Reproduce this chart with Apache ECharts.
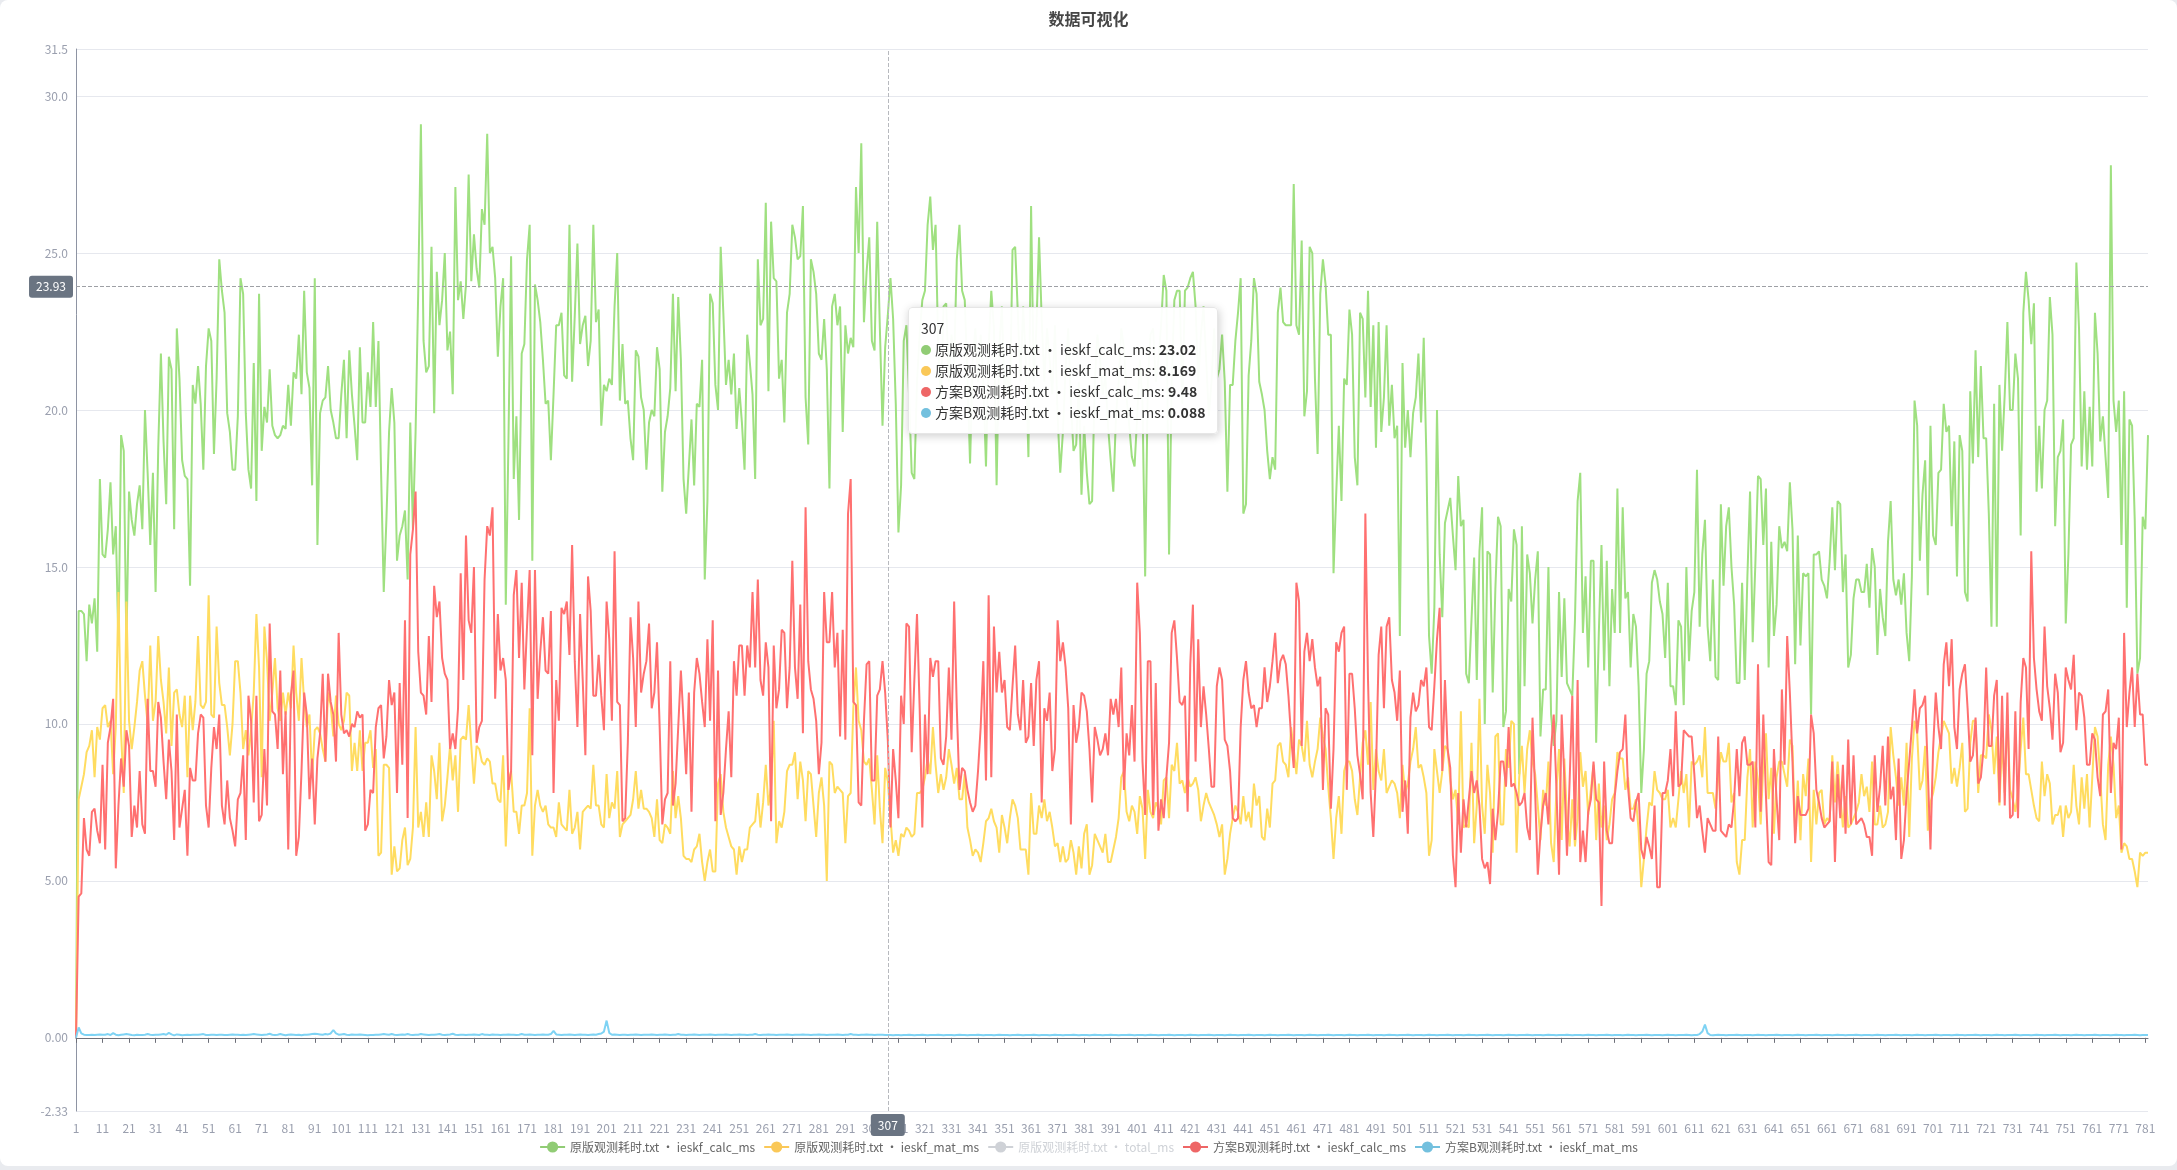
<!DOCTYPE html>
<html>
<head>
<meta charset="utf-8">
<title>数据可视化</title>
<script src="https://cdn.jsdelivr.net/npm/echarts@6.0.0/dist/echarts.min.js"></script>
<style>
  html, body { margin: 0; padding: 0; background: #e9ebef; }
  #main { width: 2177px; height: 1166px; background: #fff; border-radius: 8px; }
</style>
</head>
<body>
<div id="main"></div>
<script>
// 原版观测耗时.txt · ieskf_calc_ms
var origCalc = [
  0, 13.6, 13.6, 13.5, 12.0, 13.8, 13.2, 14.0, 12.3, 17.8,
  15.4, 15.3, 16.2, 17.7, 15.4, 16.3, 12.5, 19.2, 18.7, 12.5,
  17.4, 16.5, 16.0, 17.0, 17.6, 16.2, 20.0, 18.0, 15.7, 18.0,
  14.2, 18.8, 21.8, 19.0, 17.0, 21.7, 21.3, 16.2, 22.6, 21.0,
  18.4, 17.9, 17.8, 14.4, 20.8, 20.2, 21.4, 20.2, 18.1, 21.4,
  22.6, 22.2, 18.6, 21.0, 24.8, 23.8, 23.1, 19.9, 19.3, 18.1,
  18.1, 19.8, 24.2, 23.7, 19.9, 18.1, 17.5, 21.5, 17.1, 23.7,
  18.7, 20.1, 19.6, 21.3, 19.5, 19.2, 19.1, 19.2, 19.5, 19.4,
  20.8, 19.5, 21.2, 21.0, 22.4, 20.5, 23.8, 21.2, 20.7, 17.6,
  24.2, 15.7, 19.9, 20.3, 20.4, 21.4, 20.0, 19.6, 19.1, 19.1,
  20.5, 21.6, 19.1, 21.9, 20.5, 19.5, 18.4, 22.0, 19.6, 19.6,
  21.2, 20.1, 22.8, 20.1, 22.2, 18.0, 14.2, 16.5, 19.3, 20.7,
  19.6, 15.2, 16.0, 16.3, 16.8, 14.6, 19.6, 16.2, 19.3, 23.8,
  29.1, 22.2, 21.2, 21.4, 25.2, 19.9, 24.4, 22.7, 23.5, 25.0,
  21.9, 22.5, 20.5, 27.1, 23.5, 24.1, 22.9, 24.0, 27.5, 24.1,
  25.6, 24.5, 23.9, 26.4, 25.9, 28.8, 25.0, 25.2, 24.2, 21.7,
  23.3, 24.2, 13.8, 19.0, 24.9, 17.8, 19.8, 16.5, 21.8, 22.1,
  24.8, 25.9, 15.2, 24.0, 23.5, 22.8, 21.6, 20.2, 20.3, 18.4,
  20.5, 22.7, 22.7, 23.1, 21.1, 21.0, 25.9, 20.9, 23.0, 25.3,
  22.1, 22.7, 23.0, 21.4, 22.2, 25.9, 22.8, 23.2, 19.5, 20.8,
  20.6, 21.0, 20.8, 23.3, 25.0, 20.3, 22.1, 20.2, 20.3, 19.1,
  18.4, 21.9, 21.7, 20.4, 20.0, 18.1, 19.6, 20.0, 19.8, 22.0,
  21.3, 17.4, 19.3, 19.8, 20.7, 23.7, 20.6, 23.6, 21.6, 17.8,
  16.7, 18.2, 19.7, 17.6, 20.2, 20.1, 21.6, 14.6, 17.1, 23.7,
  23.4, 20.8, 20.0, 25.2, 23.1, 20.8, 21.6, 20.5, 21.8, 19.4,
  20.7, 19.6, 18.1, 22.4, 21.5, 20.5, 17.8, 24.8, 22.7, 22.9,
  26.6, 20.6, 26.0, 24.2, 24.1, 21.0, 21.6, 19.6, 23.1, 23.7,
  25.9, 25.5, 24.8, 24.9, 26.5, 20.4, 18.9, 24.8, 24.4, 23.7,
  21.8, 21.6, 22.9, 21.3, 17.5, 23.3, 23.7, 22.7, 23.3, 19.3,
  22.7, 21.8, 22.3, 22.0, 27.1, 25.0, 28.5, 22.8, 24.4, 25.5,
  22.2, 21.9, 26.0, 22.6, 19.5, 22.0, 23.02, 24.2, 22.9, 20.2,
  16.1, 17.6, 22.2, 22.7, 20.5, 18.0, 17.8, 20.9, 22.4, 23.5,
  23.8, 25.9, 26.8, 25.1, 25.9, 22.0, 20.2, 23.3, 23.4, 20.9,
  22.4, 21.5, 24.8, 25.9, 23.8, 23.5, 21.1, 18.3, 21.6, 22.6,
  20.9, 22.4, 20.9, 18.2, 22.0, 23.8, 22.6, 17.6, 22.0, 23.3,
  20.5, 21.3, 20.0, 25.1, 25.2, 23.1, 20.9, 23.3, 21.6, 18.5,
  26.5, 20.9, 22.6, 25.5, 22.9, 20.9, 22.6, 21.6, 20.5, 22.7,
  19.8, 18.0, 19.3, 21.3, 22.6, 20.2, 18.7, 18.9, 20.9, 17.3,
  19.5, 18.0, 17.0, 17.1, 20.9, 22.4, 21.6, 20.5, 21.1, 19.5,
  18.4, 17.4, 19.8, 20.9, 22.6, 22.0, 20.4, 19.5, 18.5, 18.2,
  19.8, 21.6, 20.2, 14.7, 20.9, 22.4, 22.6, 20.9, 21.6, 22.7,
  24.3, 23.8, 15.4, 20.9, 23.5, 23.8, 23.8, 20.2, 23.8, 23.9,
  24.2, 24.4, 23.3, 20.9, 22.4, 23.3, 21.6, 19.8, 20.9, 22.6,
  21.0, 21.3, 22.4, 20.9, 17.4, 20.8, 20.8, 22.2, 23.1, 24.2,
  16.7, 17.0, 21.1, 22.2, 24.2, 23.7, 20.9, 20.5, 20.0, 18.7,
  17.8, 18.5, 18.1, 23.1, 23.9, 22.8, 22.7, 22.7, 22.7, 27.2,
  22.7, 22.4, 25.4, 19.8, 20.6, 25.2, 25.0, 21.0, 18.6, 23.7,
  24.8, 24.0, 22.4, 22.4, 14.8, 17.3, 19.5, 17.1, 21.0, 20.8,
  23.2, 22.4, 18.5, 17.6, 23.1, 22.9, 20.4, 23.8, 20.1, 22.7,
  18.8, 22.8, 19.3, 20.4, 22.7, 19.5, 20.8, 19.1, 19.5, 12.8,
  21.5, 18.8, 20.0, 18.5, 19.9, 20.4, 21.8, 19.6, 22.3, 18.5,
  12.8, 11.6, 13.7, 20.0, 15.4, 13.4, 16.4, 16.8, 17.2, 16.0,
  14.9, 17.9, 16.3, 16.5, 11.6, 11.3, 13.3, 15.3, 11.4, 15.5,
  16.9, 10.0, 15.5, 15.4, 11.0, 14.3, 16.6, 16.3, 9.9, 10.4,
  14.3, 13.9, 16.2, 15.7, 8.4, 16.3, 11.2, 15.4, 14.8, 13.2,
  14.6, 15.5, 9.6, 11.1, 11.1, 15.0, 10.3, 9.3, 10.1, 14.2,
  11.5, 14.0, 11.3, 11.1, 10.9, 13.3, 17.1, 18.0, 12.9, 14.7,
  11.8, 15.2, 15.2, 9.4, 12.9, 15.7, 11.7, 15.2, 11.2, 14.3,
  12.9, 17.5, 12.9, 16.9, 14.0, 14.2, 11.8, 13.5, 13.1, 11.2,
  7.8, 9.2, 11.6, 12.0, 14.5, 14.9, 14.6, 13.9, 13.5, 12.1,
  14.5, 11.2, 11.2, 10.6, 13.3, 13.1, 10.6, 15.0, 12.0, 13.6,
  14.2, 18.1, 13.1, 15.4, 16.5, 13.1, 12.0, 14.6, 11.5, 11.4,
  17.0, 14.4, 16.3, 16.9, 15.0, 13.8, 11.3, 11.3, 14.5, 11.4,
  14.7, 17.4, 12.6, 15.1, 17.9, 17.8, 15.7, 17.5, 11.8, 15.8,
  12.8, 13.8, 16.3, 15.6, 15.8, 15.5, 17.7, 16.2, 11.9, 16.0,
  12.5, 14.8, 14.7, 14.8, 10.3, 15.4, 15.4, 15.5, 14.6, 14.4,
  14.0, 15.2, 16.9, 14.9, 17.1, 17.0, 14.2, 15.4, 11.8, 12.2,
  14.0, 14.6, 14.6, 14.2, 14.2, 15.1, 13.7, 15.6, 15.0, 12.2,
  14.3, 13.4, 12.8, 15.8, 17.1, 14.6, 14.1, 14.6, 13.8, 14.8,
  12.9, 12.0, 14.7, 20.3, 19.5, 15.2, 17.3, 18.4, 14.1, 19.5,
  16.0, 15.7, 18.0, 18.1, 20.2, 19.3, 19.5, 16.3, 19.0, 14.7,
  19.2, 18.7, 14.2, 13.9, 20.6, 18.3, 21.9, 18.5, 21.4, 19.1,
  19.1, 16.7, 13.1, 20.2, 13.1, 20.8, 18.7, 20.5, 22.8, 20.0,
  20.0, 21.8, 21.0, 16.0, 23.1, 24.4, 23.5, 22.1, 23.4, 17.4,
  19.5, 17.5, 20.0, 20.3, 23.6, 22.4, 16.3, 18.5, 18.7, 19.7,
  13.2, 15.4, 18.9, 19.1, 24.7, 22.6, 18.2, 20.6, 18.1, 20.1,
  18.2, 23.1, 21.8, 19.0, 19.8, 18.5, 17.2, 27.8, 20.3, 19.3,
  20.3, 15.7, 20.6, 13.7, 19.7, 19.5, 16.5, 11.6, 12.1, 16.6,
  16.2, 19.2
];

// 原版观测耗时.txt · ieskf_mat_ms
var origMat = [
  0, 7.6, 8.0, 8.4, 9.1, 9.3, 9.8, 8.3, 9.9, 9.5,
  10.5, 10.6, 9.9, 10.1, 8.4, 9.9, 14.2, 9.7, 7.8, 13.9,
  10.1, 9.2, 9.9, 10.7, 11.7, 12.0, 10.9, 10.0, 12.5, 10.1,
  10.7, 12.8, 11.4, 10.7, 9.7, 11.8, 9.3, 11.0, 11.1, 10.3,
  9.9, 10.9, 8.3, 10.9, 9.8, 10.7, 12.8, 10.6, 10.5, 10.7,
  14.1, 10.3, 10.2, 13.1, 11.3, 10.6, 10.6, 9.9, 9.0, 10.0,
  12.0, 12.0, 11.0, 9.2, 9.8, 9.0, 9.8, 11.0, 13.5, 11.8,
  8.3, 13.1, 12.0, 10.1, 11.0, 12.1, 10.5, 10.1, 11.0, 10.3,
  11.0, 10.5, 12.5, 11.0, 10.1, 12.1, 10.7, 9.9, 10.3, 8.3,
  9.8, 9.9, 9.7, 9.2, 8.8, 11.0, 10.6, 9.6, 10.9, 10.0,
  9.8, 10.1, 11.0, 10.9, 8.5, 9.4, 8.5, 9.8, 8.5, 9.4,
  9.4, 9.8, 8.6, 9.2, 5.8, 5.9, 8.7, 8.7, 8.6, 5.2,
  6.1, 5.3, 5.4, 6.3, 6.7, 5.5, 5.7, 6.7, 9.9, 6.7,
  7.2, 6.4, 7.5, 6.4, 9.0, 8.5, 7.6, 9.4, 6.9, 7.4,
  8.3, 9.3, 8.2, 9.0, 7.2, 9.5, 9.6, 9.5, 10.6, 9.3,
  8.1, 9.3, 9.2, 8.8, 8.7, 8.9, 8.8, 8.1, 8.1, 7.6,
  7.5, 9.0, 6.1, 8.2, 8.5, 7.2, 7.2, 6.5, 7.4, 7.4,
  7.8, 10.5, 5.8, 7.4, 7.9, 7.4, 7.2, 7.4, 6.8, 6.7,
  6.7, 6.4, 7.5, 6.8, 6.7, 6.6, 7.9, 6.5, 6.7, 7.2,
  6.0, 7.2, 7.3, 7.4, 7.3, 8.7, 7.4, 7.4, 6.8, 6.7,
  8.4, 7.0, 7.5, 7.3, 8.5, 6.4, 6.8, 6.9, 7.0, 7.1,
  7.6, 8.5, 7.3, 7.9, 7.3, 7.3, 7.2, 7.0, 6.4, 7.6,
  6.3, 6.2, 6.8, 6.7, 6.5, 8.5, 7.0, 7.7, 7.0, 5.8,
  5.7, 5.7, 5.6, 6.0, 6.1, 6.5, 5.6, 5.0, 5.6, 6.0,
  5.3, 5.3, 8.1, 8.4, 7.2, 6.7, 6.4, 6.1, 6.0, 5.2,
  6.1, 5.6, 6.0, 6.0, 6.7, 6.8, 6.9, 7.8, 6.7, 7.5,
  8.7, 7.4, 8.0, 10.1, 6.2, 6.9, 6.7, 7.2, 8.5, 8.7,
  8.7, 9.1, 7.6, 8.8, 8.2, 6.9, 8.5, 8.4, 7.4, 6.4,
  7.8, 8.3, 7.4, 5.0, 8.8, 8.7, 7.8, 8.0, 7.9, 7.8,
  6.2, 7.7, 7.8, 10.5, 11.8, 10.1, 9.8, 8.8, 8.7, 8.9,
  7.9, 6.8, 9.0, 7.3, 6.2, 8.6, 8.169, 7.0, 5.9, 6.3,
  5.8, 6.5, 6.4, 6.7, 6.6, 6.4, 6.5, 7.8, 7.8, 7.9,
  8.3, 8.9, 8.4, 9.9, 8.7, 7.8, 8.4, 7.9, 8.3, 9.2,
  8.7, 8.1, 8.6, 7.6, 7.6, 8.4, 6.7, 6.3, 5.8, 6.0,
  5.9, 5.6, 6.2, 6.9, 7.0, 7.3, 6.9, 6.7, 5.9, 7.1,
  6.7, 6.2, 7.0, 7.6, 7.4, 7.0, 6.0, 6.0, 6.0, 5.2,
  7.8, 6.5, 6.5, 7.4, 7.0, 7.6, 6.9, 7.2, 6.7, 6.1,
  6.2, 5.6, 6.1, 5.6, 5.7, 6.3, 5.9, 5.2, 6.1, 5.4,
  6.5, 6.8, 5.2, 5.5, 6.5, 6.3, 6.1, 5.9, 6.5, 5.6,
  5.6, 6.0, 6.4, 7.0, 8.3, 8.5, 7.2, 6.9, 7.4, 7.2,
  6.5, 7.7, 7.3, 5.7, 7.9, 7.2, 7.0, 7.5, 7.3, 6.8,
  8.2, 8.3, 7.0, 8.7, 8.5, 9.4, 8.1, 8.2, 7.8, 8.3,
  8.0, 8.1, 8.3, 7.9, 6.9, 7.4, 7.8, 7.5, 7.3, 7.1,
  6.8, 6.4, 6.8, 5.2, 5.7, 6.5, 7.0, 7.4, 7.2, 6.8,
  7.7, 6.9, 7.2, 6.7, 8.1, 7.4, 7.7, 6.4, 6.3, 7.3,
  6.7, 8.1, 8.2, 9.3, 9.4, 8.8, 8.7, 8.3, 9.9, 9.2,
  8.4, 9.5, 9.3, 8.8, 10.1, 8.7, 8.3, 8.8, 9.2, 10.2,
  9.6, 9.2, 8.0, 7.0, 5.7, 7.0, 7.7, 6.5, 8.5, 8.8,
  8.8, 8.5, 7.6, 7.1, 8.3, 9.4, 9.8, 8.7, 10.7, 7.9,
  9.2, 8.5, 8.2, 9.2, 7.8, 8.0, 8.2, 8.1, 7.8, 7.0,
  8.7, 7.8, 8.1, 8.8, 9.2, 9.9, 8.6, 8.7, 8.3, 7.8,
  5.8, 6.3, 9.2, 8.5, 7.8, 8.5, 9.3, 9.2, 8.2, 7.6,
  7.9, 6.8, 10.4, 6.7, 6.8, 6.7, 9.4, 6.2, 7.4, 10.8,
  7.4, 6.5, 8.7, 7.8, 5.9, 9.6, 9.7, 6.8, 6.8, 9.2,
  8.6, 10.1, 10.0, 5.9, 8.3, 9.3, 7.8, 9.2, 9.8, 8.8,
  8.4, 7.4, 6.3, 7.9, 7.4, 8.8, 6.2, 5.6, 7.9, 9.2,
  6.3, 8.9, 7.0, 6.1, 7.6, 6.1, 7.0, 9.1, 8.0, 8.5,
  7.1, 7.9, 8.7, 6.3, 8.1, 6.7, 7.4, 6.3, 6.8, 7.6,
  7.8, 9.1, 8.9, 8.9, 7.9, 8.3, 7.3, 7.3, 7.6, 6.6,
  4.8, 5.7, 6.7, 7.5, 7.4, 8.5, 7.9, 7.8, 7.6, 7.6,
  7.9, 6.7, 7.0, 6.7, 7.6, 8.5, 7.8, 8.4, 6.7, 8.8,
  8.7, 8.8, 9.0, 8.3, 9.9, 7.8, 7.8, 7.8, 7.3, 8.3,
  9.1, 8.8, 8.8, 9.4, 7.5, 7.8, 5.6, 5.2, 6.3, 6.3,
  8.3, 9.2, 6.7, 8.8, 8.2, 6.8, 8.7, 9.7, 7.6, 8.6,
  6.5, 8.3, 8.8, 8.8, 8.4, 8.0, 9.5, 9.3, 6.5, 8.2,
  6.3, 8.4, 7.7, 8.9, 5.6, 7.9, 6.8, 7.8, 7.9, 6.8,
  7.0, 6.9, 9.0, 7.5, 8.8, 7.7, 6.7, 7.7, 6.7, 6.8,
  7.0, 7.2, 7.5, 8.4, 7.7, 8.0, 7.2, 8.8, 6.8, 6.8,
  7.4, 6.7, 6.8, 7.2, 9.9, 9.0, 8.3, 7.4, 8.3, 7.4,
  9.4, 6.4, 8.9, 10.1, 9.7, 7.9, 8.2, 9.3, 6.6, 7.5,
  7.8, 8.3, 9.1, 9.6, 10.1, 9.9, 9.7, 8.1, 8.6, 8.0,
  8.6, 9.4, 7.2, 7.3, 9.4, 10.1, 10.1, 7.8, 9.0, 9.0,
  8.9, 10.3, 9.8, 8.4, 9.6, 7.4, 9.5, 7.8, 10.3, 7.9,
  7.6, 7.2, 7.9, 9.2, 10.2, 8.4, 8.4, 7.9, 7.4, 7.0,
  6.9, 8.8, 7.7, 8.4, 8.1, 6.8, 7.1, 7.1, 7.4, 6.4,
  7.4, 7.0, 7.2, 8.7, 7.4, 6.8, 8.3, 7.3, 8.4, 6.7,
  8.3, 9.9, 9.6, 8.3, 6.8, 6.3, 8.7, 9.6, 8.7, 7.0,
  7.4, 5.9, 6.2, 6.1, 5.7, 5.7, 5.3, 4.8, 5.9, 5.8,
  5.9, 5.9
];

// 原版观测耗时.txt · total_ms (hidden in the legend, no visible values)
var origTotal = [];

// 方案B观测耗时.txt · ieskf_calc_ms
var planBCalc = [
  0, 4.5, 4.6, 7.0, 6.0, 5.8, 7.2, 7.3, 6.6, 6.2,
  8.7, 6.0, 9.4, 9.9, 10.8, 5.4, 7.4, 8.9, 8.0, 9.8,
  9.3, 6.4, 7.4, 6.7, 8.5, 6.8, 6.5, 10.8, 8.5, 8.5,
  8.0, 10.7, 10.2, 8.8, 7.6, 9.5, 8.5, 6.3, 10.3, 6.7,
  7.3, 7.9, 5.8, 8.6, 8.2, 8.2, 9.7, 10.3, 10.2, 7.4,
  6.7, 8.6, 9.9, 9.2, 10.3, 7.4, 6.8, 8.2, 7.0, 6.6,
  6.1, 7.6, 7.8, 9.0, 6.3, 10.9, 10.1, 7.5, 10.9, 6.9,
  7.1, 9.2, 7.4, 13.2, 10.4, 10.3, 9.2, 11.7, 8.4, 10.4,
  6.0, 10.9, 11.7, 5.8, 6.4, 8.5, 11.0, 10.3, 7.6, 8.9,
  6.8, 8.9, 9.7, 11.6, 8.8, 11.6, 10.7, 10.3, 8.8, 12.9,
  10.3, 9.7, 9.8, 9.6, 10.0, 9.9, 10.4, 10.2, 10.3, 6.6,
  6.8, 7.9, 7.8, 9.9, 10.5, 10.6, 8.9, 9.6, 11.4, 10.6,
  11.0, 7.8, 11.3, 8.7, 13.3, 7.0, 15.4, 16.2, 17.4, 12.3,
  11.0, 10.9, 10.3, 12.8, 10.7, 14.4, 13.4, 13.9, 12.1, 11.6,
  11.4, 9.2, 9.7, 9.2, 10.5, 14.8, 11.4, 16.0, 13.3, 12.9,
  15.0, 9.4, 9.9, 10.1, 14.6, 16.3, 16.0, 16.9, 10.8, 13.5,
  11.7, 12.1, 11.4, 7.9, 8.5, 14.1, 14.9, 12.1, 14.5, 11.1,
  13.1, 14.9, 9.0, 14.9, 10.8, 12.3, 13.4, 11.7, 11.6, 13.6,
  7.8, 11.4, 10.1, 13.7, 13.5, 13.9, 12.2, 15.7, 12.0, 9.9,
  13.5, 11.4, 9.0, 14.7, 13.6, 10.9, 10.9, 12.2, 10.9, 9.8,
  13.9, 12.7, 10.1, 15.5, 10.7, 10.6, 6.9, 7.0, 9.4, 13.4,
  12.1, 9.9, 13.9, 11.0, 11.6, 12.0, 13.2, 10.5, 11.0, 12.6,
  9.9, 6.8, 7.6, 7.8, 12.0, 7.4, 8.1, 9.9, 11.7, 10.1,
  8.4, 11.0, 7.2, 11.0, 12.1, 11.6, 10.7, 9.9, 12.7, 10.1,
  13.3, 6.9, 11.7, 7.1, 7.8, 9.2, 10.4, 8.3, 12.0, 10.9,
  12.5, 12.5, 10.9, 12.5, 11.8, 14.2, 11.8, 14.6, 11.4, 10.9,
  12.6, 11.8, 6.9, 12.5, 10.5, 11.1, 13.0, 12.9, 10.5, 11.8,
  15.2, 11.8, 10.8, 13.8, 9.7, 16.9, 12.0, 11.1, 10.8, 10.1,
  8.4, 9.4, 14.2, 12.6, 12.6, 14.2, 11.8, 12.9, 9.6, 13.0,
  9.5, 16.7, 17.8, 10.7, 10.6, 7.5, 7.4, 10.1, 11.9, 12.0,
  8.2, 8.2, 10.9, 11.1, 12.0, 11.0, 9.48, 6.7, 9.2, 8.2,
  7.0, 10.9, 10.0, 13.2, 13.1, 9.1, 11.4, 13.5, 10.5, 6.7,
  10.3, 8.4, 12.1, 11.5, 12.0, 12.0, 8.9, 8.7, 9.6, 11.8,
  9.5, 13.9, 10.5, 7.9, 8.6, 8.5, 7.9, 7.5, 7.2, 7.4,
  8.5, 9.9, 12.0, 8.2, 14.1, 8.3, 13.1, 11.0, 12.3, 11.0,
  11.4, 9.9, 9.8, 11.2, 12.5, 10.3, 9.8, 11.4, 9.4, 9.6,
  11.3, 9.3, 11.4, 12.0, 7.5, 10.5, 10.1, 11.0, 8.5, 9.2,
  13.3, 12.0, 12.6, 11.8, 10.5, 6.8, 10.6, 9.4, 9.9, 11.0,
  10.9, 10.4, 9.2, 7.5, 9.9, 9.5, 9.0, 9.2, 9.7, 9.0,
  10.8, 10.3, 10.8, 9.9, 11.8, 7.9, 9.7, 9.0, 10.6, 8.8,
  14.5, 12.9, 8.8, 7.1, 12.0, 12.0, 7.1, 11.3, 6.6, 7.6,
  7.0, 8.3, 9.4, 12.9, 13.3, 12.1, 10.7, 10.6, 10.9, 7.2,
  11.9, 13.8, 8.8, 12.7, 9.9, 11.2, 10.3, 9.2, 8.0, 8.0,
  11.2, 11.8, 11.4, 9.5, 9.3, 8.5, 7.0, 6.9, 7.0, 9.9,
  11.4, 12.0, 11.0, 10.5, 10.6, 9.9, 10.5, 10.5, 11.8, 10.7,
  11.2, 12.0, 12.9, 11.3, 12.0, 12.2, 11.9, 10.9, 9.6, 8.6,
  14.5, 13.9, 9.3, 12.3, 12.9, 12.0, 12.7, 11.8, 11.2, 11.5,
  7.9, 10.5, 10.3, 7.3, 9.2, 12.6, 12.3, 12.9, 13.1, 7.9,
  11.6, 11.6, 10.5, 9.0, 8.4, 7.6, 16.7, 11.4, 7.8, 6.4,
  8.5, 12.2, 13.1, 10.5, 13.1, 13.4, 11.4, 11.0, 10.1, 11.7,
  7.2, 8.2, 6.5, 10.2, 11.0, 10.4, 10.6, 11.4, 11.2, 11.8,
  9.9, 9.8, 11.2, 12.7, 13.7, 8.5, 11.4, 9.2, 8.6, 5.8,
  4.8, 7.8, 5.9, 7.6, 6.7, 7.6, 8.5, 7.8, 8.2, 7.4,
  5.7, 5.4, 5.6, 4.9, 7.3, 6.3, 7.2, 8.8, 8.8, 8.0,
  9.9, 8.0, 8.1, 7.8, 7.4, 7.5, 7.8, 6.7, 6.3, 10.2,
  7.8, 5.2, 6.5, 7.4, 7.8, 6.8, 9.2, 10.3, 8.0, 5.2,
  10.3, 8.3, 5.8, 8.2, 10.9, 6.3, 11.4, 5.6, 6.6, 5.6,
  7.2, 7.6, 8.8, 7.6, 7.5, 4.2, 8.8, 6.6, 6.2, 6.2,
  7.7, 8.5, 9.1, 9.2, 10.3, 8.0, 7.0, 6.9, 7.5, 7.8,
  6.0, 5.7, 6.4, 6.1, 5.7, 7.4, 4.8, 4.8, 7.8, 7.8,
  8.2, 9.2, 7.7, 10.4, 8.0, 8.1, 9.8, 9.7, 9.6, 9.6,
  8.4, 7.0, 7.4, 6.6, 5.9, 7.0, 6.8, 6.6, 6.6, 9.6,
  6.6, 6.5, 6.4, 6.8, 6.7, 7.6, 9.2, 7.7, 9.4, 9.6,
  8.7, 8.7, 8.8, 6.7, 11.9, 7.2, 10.3, 7.7, 5.6, 5.5,
  9.2, 7.6, 6.3, 11.1, 8.7, 12.8, 11.0, 8.8, 6.2, 7.7,
  7.1, 7.1, 7.1, 7.3, 10.3, 9.7, 7.9, 7.5, 7.0, 6.7,
  6.8, 6.9, 8.8, 5.6, 8.4, 7.0, 8.7, 6.5, 9.5, 6.8,
  9.0, 6.8, 6.9, 7.0, 6.8, 6.4, 6.4, 5.8, 9.0, 7.2,
  8.0, 9.3, 7.4, 9.6, 7.6, 8.0, 6.3, 8.9, 5.7, 6.3,
  7.8, 8.8, 9.9, 11.1, 9.7, 10.5, 10.6, 10.9, 8.5, 6.0,
  9.2, 11.0, 9.9, 9.2, 11.9, 12.6, 11.2, 12.7, 9.9, 9.2,
  11.1, 11.6, 11.9, 10.5, 8.8, 9.0, 10.2, 8.1, 8.3, 9.2,
  11.8, 9.3, 9.3, 10.9, 11.4, 7.5, 10.9, 7.4, 11.0, 7.0,
  7.1, 10.4, 7.0, 10.7, 12.1, 11.8, 9.2, 15.5, 12.1, 11.1,
  10.4, 10.1, 13.1, 11.2, 10.5, 9.5, 11.6, 11.0, 9.1, 9.4,
  11.8, 11.4, 11.1, 12.2, 9.8, 11.0, 10.9, 10.2, 8.7, 8.7,
  9.7, 9.5, 8.3, 7.7, 10.3, 10.4, 11.1, 7.8, 9.4, 9.2,
  10.2, 6.0, 12.9, 9.9, 11.0, 11.8, 9.9, 11.6, 10.3, 10.3,
  8.7, 8.7
];

// 方案B观测耗时.txt · ieskf_mat_ms
var planBMat = [
  0, 0.33, 0.14, 0.1, 0.09, 0.09, 0.1, 0.09, 0.1, 0.11, 0.1, 0.1, 0.12, 0.09, 0.15, 0.1, 0.08, 0.1, 0.11, 0.12,
  0.11, 0.09, 0.08, 0.1, 0.09, 0.09, 0.1, 0.12, 0.1, 0.09, 0.1, 0.1, 0.11, 0.12, 0.1, 0.16, 0.11, 0.08, 0.11, 0.1,
  0.08, 0.09, 0.1, 0.09, 0.1, 0.1, 0.1, 0.11, 0.12, 0.09, 0.09, 0.1, 0.1, 0.09, 0.1, 0.1, 0.09, 0.09, 0.1, 0.11,
  0.1, 0.1, 0.09, 0.1, 0.09, 0.1, 0.11, 0.12, 0.11, 0.1, 0.09, 0.1, 0.11, 0.13, 0.1, 0.09, 0.1, 0.12, 0.1, 0.08,
  0.1, 0.11, 0.1, 0.09, 0.1, 0.08, 0.1, 0.1, 0.11, 0.12, 0.13, 0.12, 0.11, 0.1, 0.12, 0.11, 0.14, 0.25, 0.14, 0.1,
  0.11, 0.12, 0.1, 0.09, 0.11, 0.1, 0.1, 0.11, 0.1, 0.09, 0.08, 0.09, 0.09, 0.1, 0.1, 0.11, 0.12, 0.11, 0.1, 0.12,
  0.1, 0.09, 0.1, 0.11, 0.1, 0.12, 0.1, 0.09, 0.1, 0.1, 0.12, 0.11, 0.1, 0.09, 0.1, 0.1, 0.11, 0.12, 0.1, 0.09,
  0.1, 0.11, 0.13, 0.1, 0.09, 0.1, 0.1, 0.09, 0.1, 0.1, 0.11, 0.1, 0.09, 0.12, 0.1, 0.1, 0.09, 0.11, 0.1, 0.1,
  0.09, 0.1, 0.1, 0.11, 0.1, 0.1, 0.09, 0.1, 0.12, 0.1, 0.1, 0.11, 0.1, 0.09, 0.1, 0.1, 0.11, 0.1, 0.1, 0.12,
  0.22, 0.11, 0.1, 0.09, 0.1, 0.1, 0.11, 0.1, 0.09, 0.1, 0.11, 0.1, 0.1, 0.09, 0.1, 0.11, 0.1, 0.12, 0.14, 0.2,
  0.55, 0.16, 0.1, 0.11, 0.1, 0.09, 0.1, 0.1, 0.09, 0.1, 0.1, 0.11, 0.1, 0.09, 0.1, 0.1, 0.1, 0.11, 0.1, 0.09,
  0.1, 0.1, 0.11, 0.1, 0.09, 0.1, 0.1, 0.12, 0.1, 0.1, 0.09, 0.1, 0.1, 0.11, 0.1, 0.09, 0.1, 0.1, 0.1, 0.11,
  0.1, 0.09, 0.1, 0.1, 0.1, 0.11, 0.1, 0.09, 0.1, 0.1, 0.11, 0.1, 0.1, 0.09, 0.1, 0.1, 0.12, 0.1, 0.09, 0.1,
  0.1, 0.11, 0.1, 0.1, 0.09, 0.1, 0.1, 0.1, 0.11, 0.1, 0.09, 0.1, 0.1, 0.1, 0.11, 0.1, 0.1, 0.09, 0.1, 0.1,
  0.11, 0.1, 0.1, 0.09, 0.1, 0.1, 0.1, 0.11, 0.1, 0.09, 0.1, 0.1, 0.12, 0.1, 0.1, 0.09, 0.1, 0.1, 0.11, 0.1,
  0.1, 0.09, 0.1, 0.1, 0.1, 0.09, 0.088, 0.09, 0.08, 0.09, 0.09, 0.08, 0.09, 0.09, 0.1, 0.09, 0.08, 0.09, 0.09, 0.1,
  0.09, 0.08, 0.09, 0.09, 0.09, 0.1, 0.09, 0.08, 0.09, 0.09, 0.09, 0.08, 0.09, 0.1, 0.09, 0.09, 0.08, 0.09, 0.09, 0.09,
  0.1, 0.09, 0.08, 0.09, 0.09, 0.09, 0.08, 0.09, 0.1, 0.09, 0.09, 0.09, 0.08, 0.09, 0.09, 0.1, 0.09, 0.08, 0.09, 0.09,
  0.09, 0.1, 0.09, 0.08, 0.09, 0.09, 0.09, 0.08, 0.09, 0.1, 0.09, 0.09, 0.08, 0.09, 0.09, 0.09, 0.1, 0.09, 0.08, 0.09,
  0.09, 0.09, 0.08, 0.09, 0.1, 0.09, 0.09, 0.08, 0.09, 0.09, 0.1, 0.09, 0.09, 0.08, 0.09, 0.09, 0.09, 0.1, 0.09, 0.08,
  0.09, 0.09, 0.09, 0.08, 0.09, 0.1, 0.09, 0.09, 0.08, 0.09, 0.09, 0.09, 0.1, 0.09, 0.08, 0.09, 0.09, 0.09, 0.08, 0.09,
  0.1, 0.09, 0.09, 0.08, 0.09, 0.09, 0.09, 0.1, 0.09, 0.08, 0.09, 0.09, 0.09, 0.08, 0.09, 0.1, 0.09, 0.09, 0.08, 0.09,
  0.09, 0.09, 0.1, 0.09, 0.08, 0.09, 0.09, 0.09, 0.08, 0.09, 0.1, 0.09, 0.09, 0.08, 0.09, 0.09, 0.09, 0.1, 0.09, 0.08,
  0.09, 0.09, 0.09, 0.08, 0.09, 0.1, 0.09, 0.09, 0.08, 0.09, 0.09, 0.09, 0.1, 0.09, 0.08, 0.09, 0.09, 0.09, 0.08, 0.09,
  0.1, 0.09, 0.09, 0.08, 0.09, 0.09, 0.09, 0.1, 0.09, 0.08, 0.09, 0.09, 0.09, 0.08, 0.09, 0.1, 0.09, 0.09, 0.08, 0.09,
  0.09, 0.09, 0.1, 0.09, 0.08, 0.09, 0.09, 0.09, 0.08, 0.09, 0.1, 0.09, 0.09, 0.08, 0.09, 0.09, 0.09, 0.1, 0.09, 0.08,
  0.09, 0.09, 0.09, 0.08, 0.09, 0.1, 0.09, 0.09, 0.08, 0.09, 0.09, 0.09, 0.1, 0.09, 0.08, 0.09, 0.09, 0.09, 0.08, 0.09,
  0.1, 0.09, 0.09, 0.08, 0.09, 0.09, 0.09, 0.1, 0.09, 0.08, 0.09, 0.09, 0.09, 0.08, 0.09, 0.1, 0.09, 0.09, 0.08, 0.09,
  0.09, 0.09, 0.1, 0.09, 0.08, 0.09, 0.09, 0.09, 0.08, 0.09, 0.1, 0.09, 0.09, 0.08, 0.09, 0.09, 0.09, 0.1, 0.09, 0.08,
  0.09, 0.09, 0.09, 0.08, 0.09, 0.1, 0.09, 0.09, 0.08, 0.09, 0.09, 0.09, 0.1, 0.09, 0.08, 0.09, 0.09, 0.09, 0.08, 0.09,
  0.1, 0.09, 0.09, 0.08, 0.09, 0.09, 0.09, 0.1, 0.09, 0.08, 0.09, 0.09, 0.12, 0.2, 0.42, 0.15, 0.09, 0.08, 0.09, 0.1,
  0.09, 0.09, 0.08, 0.09, 0.09, 0.09, 0.1, 0.09, 0.08, 0.09, 0.09, 0.09, 0.08, 0.09, 0.1, 0.09, 0.09, 0.08, 0.09, 0.09,
  0.09, 0.1, 0.09, 0.08, 0.09, 0.09, 0.09, 0.08, 0.09, 0.1, 0.09, 0.09, 0.08, 0.09, 0.09, 0.09, 0.1, 0.09, 0.08, 0.09,
  0.09, 0.09, 0.08, 0.09, 0.1, 0.09, 0.09, 0.08, 0.09, 0.09, 0.09, 0.1, 0.09, 0.08, 0.09, 0.09, 0.09, 0.08, 0.09, 0.1,
  0.09, 0.09, 0.08, 0.09, 0.09, 0.09, 0.1, 0.09, 0.08, 0.09, 0.09, 0.09, 0.08, 0.09, 0.1, 0.09, 0.09, 0.08, 0.09, 0.09,
  0.09, 0.1, 0.09, 0.08, 0.09, 0.09, 0.09, 0.08, 0.09, 0.1, 0.09, 0.09, 0.08, 0.09, 0.09, 0.09, 0.1, 0.09, 0.08, 0.09,
  0.09, 0.09, 0.08, 0.09, 0.1, 0.09, 0.09, 0.08, 0.09, 0.09, 0.09, 0.1, 0.09, 0.08, 0.09, 0.09, 0.09, 0.08, 0.09, 0.1,
  0.09, 0.09, 0.08, 0.09, 0.09, 0.09, 0.1, 0.09, 0.08, 0.09, 0.09, 0.09, 0.08, 0.09, 0.1, 0.09, 0.09, 0.08, 0.09, 0.09,
  0.09, 0.1, 0.09, 0.08, 0.09, 0.09, 0.09, 0.08, 0.09, 0.1, 0.09, 0.09, 0.08, 0.09, 0.09, 0.09, 0.1, 0.09, 0.08, 0.09,
  0.09, 0.09
];

// 行号 1..N 作为类目
var categories = origCalc.map(function (v, i) { return String(i + 1); });

var seriesNames = [
  '原版观测耗时.txt · ieskf_calc_ms',
  '原版观测耗时.txt · ieskf_mat_ms',
  '原版观测耗时.txt · total_ms',
  '方案B观测耗时.txt · ieskf_calc_ms',
  '方案B观测耗时.txt · ieskf_mat_ms'
];
var colors = ['#91cc75', '#fac858', '#5470c6', '#ee6666', '#73c0de'];
var yMin = -2.33, yMax = 31.5;
var pointerIndex = 306, pointerValue = 23.93;

var font = '"Noto Sans CJK SC", "Noto Sans", sans-serif';
var chart = echarts.init(document.getElementById('main'));

var selected = {};
selected[seriesNames[2]] = false;

function lineSeries(name, data) {
  return { name: name, type: 'line', symbol: 'none', data: data };
}

chart.setOption({
  animation: false,
  color: colors,
  textStyle: { fontFamily: font },
  title: {
    text: '数据可视化',
    left: 'center',
    top: 6,
    textStyle: { fontSize: 16, fontWeight: 'bold', color: '#464646', fontFamily: font }
  },
  grid: { left: 76, right: 29, top: 49, bottom: 55 },
  tooltip: {
    trigger: 'axis',
    transitionDuration: 0,
    axisPointer: {
      type: 'cross',
      label: { backgroundColor: '#6a7482' }
    },
    backgroundColor: 'rgba(255,255,255,0.96)',
    borderColor: '#e6e6e6',
    padding: [10, 12],
    textStyle: { fontSize: 14, color: '#333', fontFamily: font },
    formatter: function (params) {
      var s = params[0].axisValue;
      params.forEach(function (p) {
        s += '<br/>' + p.marker + p.seriesName + ': <b>' + p.value + '</b>';
      });
      return s;
    }
  },
  legend: {
    bottom: 8,
    left: 'center',
    selected: selected,
    textStyle: { fontSize: 12, color: '#666' },
    data: seriesNames
  },
  xAxis: {
    type: 'category',
    boundaryGap: false,
    data: categories,
    axisLine: { lineStyle: { color: '#6E7079' } },
    axisTick: { interval: 9 },
    axisLabel: { interval: 9, color: '#9a9fae', fontSize: 12, margin: 11 }
  },
  yAxis: {
    type: 'value',
    min: yMin,
    max: yMax,
    axisLine: { show: true, lineStyle: { color: '#8e94a3' } },
    axisLabel: {
      color: '#9a9fae',
      fontSize: 12,
      formatter: function (v) { return Number(v).toPrecision(3); }
    },
    splitLine: { lineStyle: { color: '#e6e8ee' } }
  },
  series: [
    lineSeries(seriesNames[0], origCalc),
    lineSeries(seriesNames[1], origMat),
    lineSeries(seriesNames[2], origTotal),
    lineSeries(seriesNames[3], planBCalc),
    lineSeries(seriesNames[4], planBMat)
  ]
});

setTimeout(function () {
  var px = chart.convertToPixel({ xAxisIndex: 0 }, pointerIndex);
  var py = chart.convertToPixel({ yAxisIndex: 0 }, pointerValue);
  chart.dispatchAction({ type: 'showTip', x: px, y: py });
}, 50);
</script>
</body>
</html>
